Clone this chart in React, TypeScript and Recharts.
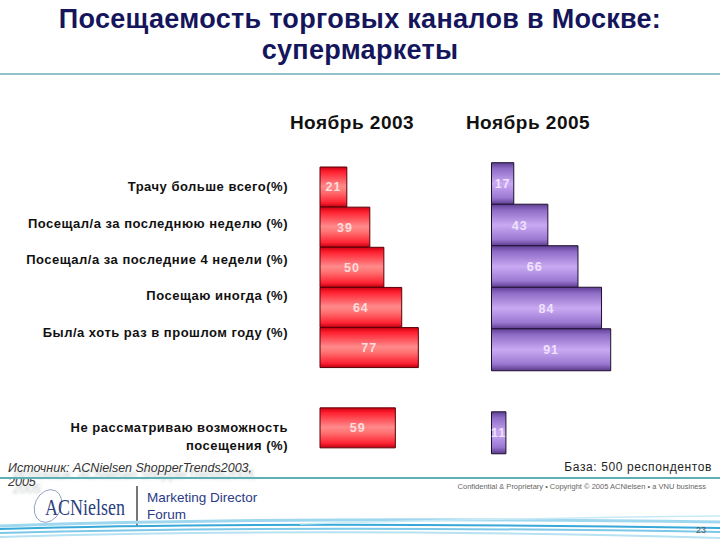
import React from 'react';
import { BarChart, Bar, XAxis, YAxis, LabelList } from 'recharts';

const rowLabels = [
  'Трачу больше всего(%)',
  'Посещал/а за последнюю неделю (%)',
  'Посещал/а за последние 4 недели (%)',
  'Посещаю иногда (%)',
  'Был/а хоть раз в прошлом году  (%)',
  '',
  'Не рассматриваю возможность\nпосещения (%)',
];
const nov2003 = [21, 39, 50, 64, 77, null, 59];
const nov2005 = [17, 43, 66, 84, 91, null, 11];
const seriesNames = ['Ноябрь 2003', 'Ноябрь 2005'];

const data = rowLabels.map((row, i) => ({ row: row || ' ', y2003: nov2003[i], y2005: nov2005[i] }));

const FONT = '"Liberation Sans", Arial, sans-serif';
const NAVY = '#15155c';

type TickProps = { x?: number; y?: number; index?: number; payload?: { value: string } };

function RowTick({ x = 0, y = 0, index = 0, payload }: TickProps) {
  const lines = String(payload?.value ?? '').trim().split('\n');
  // rows in the slide are a little tighter than the bars
  const shift = index < 5 ? -index * 3.7 - 0.5 : 9;
  const lh = 18;
  return (
    <text
      x={x}
      y={y + shift}
      textAnchor="end"
      fontFamily={FONT}
      fontWeight={700}
      fontSize={13}
      fill="#111"
      letterSpacing={0.5}
    >
      {lines.map((l, k) => (
        <tspan key={k} x={x} dy={k === 0 ? (-(lines.length - 1) * lh) / 2 + 4.5 : lh}>
          {l}
        </tspan>
      ))}
    </text>
  );
}

const valueLabelStyle = {
  fontFamily: FONT,
  fontWeight: 700,
  fontSize: 12.5,
  letterSpacing: 1,
};

const headerStyle: React.CSSProperties = {
  position: 'absolute',
  top: 112,
  width: 180,
  textAlign: 'center',
  fontWeight: 700,
  fontSize: 19,
  letterSpacing: 0.5,
  color: '#111',
};

export default function App() {
  return (
    <div style={{ position: 'absolute', left: 0, top: 0, width: 720, height: 540, background: '#fff', overflow: 'hidden', fontFamily: FONT }}>
      <div
        style={{
          position: 'absolute',
          left: 0,
          top: 4,
          width: 720,
          textAlign: 'center',
          color: NAVY,
          fontWeight: 700,
          fontSize: 27,
          letterSpacing: 0.3,
          lineHeight: '31px',
        }}
      >
        Посещаемость торговых каналов в Москве:
        <br />
        супермаркеты
      </div>
      <div style={{ position: 'absolute', left: 0, top: 73, width: 720, height: 2, background: '#8fc3c8' }} />

      <div style={{ ...headerStyle, left: 262 }}>{seriesNames[0]}</div>
      <div style={{ ...headerStyle, left: 438 }}>{seriesNames[1]}</div>

      <div style={{ position: 'absolute', left: 0, top: 0 }}>
        <BarChart
          width={720}
          height={540}
          data={data}
          layout="vertical"
          barCategoryGap={0}
          margin={{ top: 167, bottom: 92, left: 0, right: 272.3 }}
        >
          <defs>
            <linearGradient id="redGrad" x1="0" y1="0" x2="0" y2="1">
              <stop offset="0%" stopColor="#cc0010" />
              <stop offset="12%" stopColor="#ff2030" />
              <stop offset="48%" stopColor="#ff8a8a" />
              <stop offset="62%" stopColor="#ff7272" />
              <stop offset="88%" stopColor="#ff2535" />
              <stop offset="100%" stopColor="#c00010" />
            </linearGradient>
          </defs>
          <XAxis type="number" domain={[0, 100]} hide />
          <YAxis
            type="category"
            dataKey="row"
            width={320}
            axisLine={false}
            tickLine={false}
            tickSize={0}
            tickMargin={32}
            interval={0}
            tick={<RowTick />}
          />
          <Bar dataKey="y2003" fill="url(#redGrad)" stroke="#5a0008" strokeWidth={1} isAnimationActive={false}>
            <LabelList dataKey="y2003" position="center" fill="#ffdcdc" style={valueLabelStyle} />
          </Bar>
        </BarChart>
      </div>

      <div style={{ position: 'absolute', left: 0, top: 0 }}>
        <BarChart
          width={720}
          height={540}
          data={data}
          layout="vertical"
          barCategoryGap={0}
          margin={{ top: 162.7, bottom: 86.7, left: 491.5, right: 97.5 }}
        >
          <defs>
            <linearGradient id="purpleGrad" x1="0" y1="0" x2="0" y2="1">
              <stop offset="0%" stopColor="#5e3e92" />
              <stop offset="14%" stopColor="#8e6cc6" />
              <stop offset="50%" stopColor="#c9a9f2" />
              <stop offset="84%" stopColor="#9a78d2" />
              <stop offset="100%" stopColor="#583888" />
            </linearGradient>
          </defs>
          <XAxis type="number" domain={[0, 100]} hide />
          <YAxis type="category" dataKey="row" hide />
          <Bar dataKey="y2005" fill="url(#purpleGrad)" stroke="#1e1030" strokeWidth={1} isAnimationActive={false}>
            <LabelList dataKey="y2005" position="center" fill="#f0e2ff" style={valueLabelStyle} />
          </Bar>
        </BarChart>
      </div>

      {/* footer */}
      <div
        style={{
          position: 'absolute',
          left: 8,
          top: 461,
          fontStyle: 'italic',
          fontSize: 12.5,
          lineHeight: '14px',
          color: '#333',
          textShadow: '5px 7px 3px rgba(120,140,140,0.45)',
        }}
      >
        Источник: ACNielsen ShopperTrends2003,
        <br />
        2005
      </div>
      <div style={{ position: 'absolute', right: 8, top: 460, fontSize: 12, color: '#222', letterSpacing: 0.6 }}>
        База: 500 респондентов
      </div>
      <div style={{ position: 'absolute', left: 0, top: 477, width: 720, height: 1.5, background: '#5fb0b4' }} />
      <div style={{ position: 'absolute', right: 14, top: 482, fontSize: 7.5, color: '#666' }}>
        Confidential &amp; Proprietary • Copyright © 2005 ACNielsen • a VNU business
      </div>

      <svg style={{ position: 'absolute', left: 0, top: 480 }} width={720} height={60}>
        <ellipse cx={48} cy={26} rx={13} ry={17} fill="none" stroke="#8898b8" strokeWidth={0.8} transform="rotate(25 48 26)" />
        <text
          x={45}
          y={35}
          fontFamily='"Liberation Serif", serif'
          fontSize={23}
          fill="#2c3f80"
          textLength={80}
          lengthAdjust="spacingAndGlyphs"
        >
          ACNielsen
        </text>
        <line x1={137} y1={6} x2={137} y2={47} stroke="#777" strokeWidth={2} />
        <text x={147} y={22} fontFamily={FONT} fontSize={13.5} fill="#2a3a86">
          Marketing Director
        </text>
        <text x={147} y={39} fontFamily={FONT} fontSize={13.5} fill="#2a3a86">
          Forum
        </text>
        <path d="M0 46 Q 300 36 720 42" fill="none" stroke="#9fd8ee" strokeWidth={3} />
        <path d="M0 49 Q 260 41 720 48" fill="none" stroke="#38a8d8" strokeWidth={2} />
        <path d="M0 53 Q 300 45 720 52" fill="none" stroke="#7cc8e8" strokeWidth={2} />
        <path d="M0 57 Q 320 47 720 58" fill="none" stroke="#b6e2f2" strokeWidth={2} />
        <path d="M300 44 Q 520 38 720 36" fill="none" stroke="#c8eaf6" strokeWidth={1.5} />
        <text x={706} y={53} textAnchor="end" fontFamily={FONT} fontSize={9} fill="#555">
          23
        </text>
      </svg>
    </div>
  );
}
